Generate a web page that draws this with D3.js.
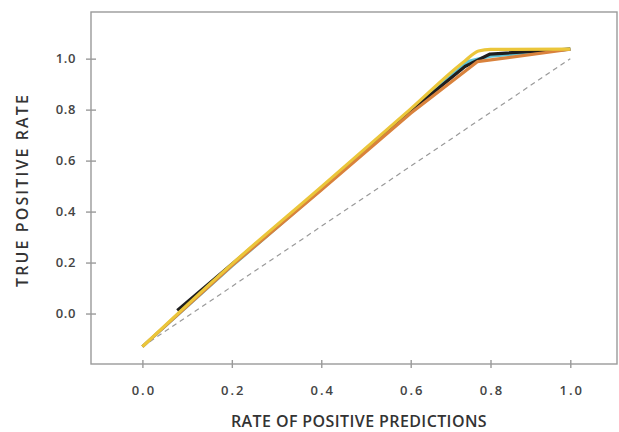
<!DOCTYPE html>
<html>
<head>
<meta charset="utf-8">
<script src="https://cdn.jsdelivr.net/npm/d3@7/dist/d3.min.js"></script>
<style>
  html, body { margin: 0; padding: 0; background: #fff; }
  svg text { font-family: "Open Sans", "Noto Sans", sans-serif; }
</style>
</head>
<body>
<svg id="chart" width="619" height="432"></svg>
<script>
// ---- data ----
const xTicks = [0.0, 0.2, 0.4, 0.6, 0.8, 1.0];
const yTicks = [0.0, 0.2, 0.4, 0.6, 0.8, 1.0];
const xLabel = "RATE OF POSITIVE PREDICTIONS";
const yLabel = "TRUE POSITIVE RATE";

const diagX = [0.0, 0.6, 1.0];
const diagY = [-0.13, 0.578, 1.0];

const cyanX = [0.0, 0.2, 0.4, 0.6, 0.745, 0.8, 1.0];
const cyanY = [-0.13, 0.186, 0.487, 0.797, 0.99, 1.01, 1.037];

const blackX = [0.078, 0.2, 0.4, 0.6, 0.736, 0.769, 0.799, 1.0];
const blackY = [0.012, 0.193, 0.489, 0.795, 0.969, 0.995, 1.018, 1.037];

const orangeX = [0.0, 0.2, 0.4, 0.6, 0.767, 1.0];
const orangeY = [-0.13, 0.188, 0.485, 0.786, 0.988, 1.037];

const yellowX = [0.0, 0.2, 0.4, 0.6, 0.735, 0.77, 0.8, 1.0];
const yellowY = [-0.13, 0.194, 0.497, 0.803, 0.99, 1.03, 1.036, 1.037];

const series = [
  { name: "cyan",   xs: cyanX,   ys: cyanY,   color: "#5ec3d6", curve: d3.curveLinear },
  { name: "black",  xs: blackX,  ys: blackY,  color: "#1e1e1e", curve: d3.curveLinear },
  { name: "orange", xs: orangeX, ys: orangeY, color: "#d9823c", curve: d3.curveLinear },
  { name: "yellow", xs: yellowX, ys: yellowY, color: "#ebc63a", curve: d3.curveMonotoneX }
];

// ---- layout ----
const svg = d3.select("#chart");
const frame = { left: 91, top: 12, right: 617, bottom: 364 };

const x = d3.scaleLinear().domain([0, 0.6, 1.0]).range([142.4, 410.7, 570.3]);
const y = d3.scaleLinear().domain([-0.198, 1.183]).range([frame.bottom, frame.top]);

const axisColor = "#9a9a9a";
const textColor = "#444";

// frame
svg.append("rect")
  .attr("x", frame.left).attr("y", frame.top)
  .attr("width", frame.right - frame.left)
  .attr("height", frame.bottom - frame.top)
  .attr("fill", "none").attr("stroke", axisColor).attr("stroke-width", 1.4);

// x axis
const xAxis = d3.axisBottom(x).tickValues(xTicks).tickFormat(d3.format(".1f")).tickSize(0).tickPadding(22);
const gx = svg.append("g").attr("transform", `translate(0,${frame.bottom})`).call(xAxis);
gx.select(".domain").remove();
gx.selectAll(".tick").append("line")
  .attr("y1", -4).attr("y2", 4).attr("stroke", axisColor).attr("stroke-width", 1.4);
gx.selectAll("text")
  .attr("fill", textColor).style("font-size", "13px").style("font-weight", 600)
  .attr("dx", "1px")
  .style("letter-spacing", "2px");

// y axis
const yAxis = d3.axisLeft(y).tickValues(yTicks).tickFormat(d3.format(".1f")).tickSize(0).tickPadding(15);
const gy = svg.append("g").attr("transform", `translate(${frame.left},0)`).call(yAxis);
gy.select(".domain").remove();
gy.selectAll(".tick").append("line")
  .attr("x1", -5).attr("x2", 5).attr("stroke", axisColor).attr("stroke-width", 1.4);
gy.selectAll("text")
  .attr("fill", textColor).style("font-size", "13px").style("font-weight", 600)
  .style("letter-spacing", "0.6px");

// axis titles
svg.append("text")
  .attr("x", 359).attr("y", 427)
  .attr("text-anchor", "middle")
  .attr("fill", "#333").style("font-size", "16px").style("font-weight", 600)
  .style("letter-spacing", "0.4px")
  .text(xLabel);

svg.append("text")
  .attr("transform", `translate(28,190) rotate(-90)`)
  .attr("text-anchor", "middle")
  .attr("fill", "#333").style("font-size", "16px").style("font-weight", 600)
  .style("letter-spacing", "2.1px")
  .text(yLabel);

// diagonal reference
const diag = diagX.map((d, i) => [d, diagY[i]]);
svg.append("path")
  .datum(diag)
  .attr("d", d3.line().x(d => x(d[0])).y(d => y(d[1])))
  .attr("fill", "none").attr("stroke", "#999").attr("stroke-width", 1.2)
  .attr("stroke-dasharray", "5,4");

// series
series.forEach(s => {
  const pts = s.xs.map((d, i) => [d, s.ys[i]]);
  svg.append("path")
    .datum(pts)
    .attr("d", d3.line().curve(s.curve).x(d => x(d[0])).y(d => y(d[1])))
    .attr("fill", "none").attr("stroke", s.color).attr("stroke-width", 3.2)
    .attr("stroke-linejoin", "round").attr("stroke-linecap", "butt");
});
</script>
</body>
</html>
